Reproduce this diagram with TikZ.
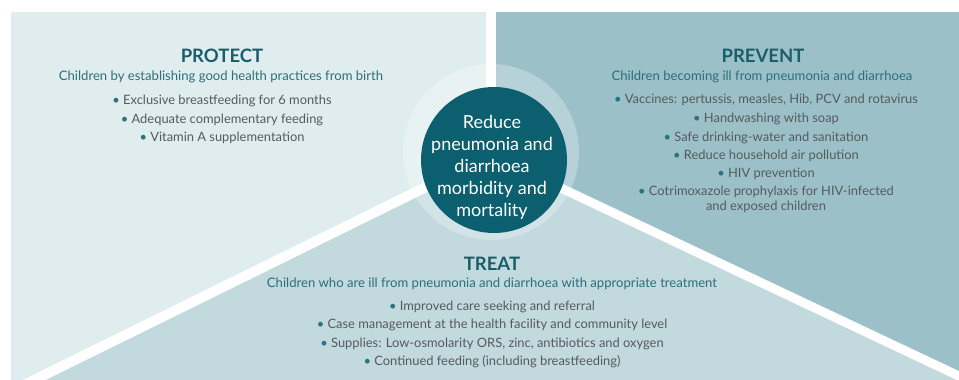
\documentclass[tikz,border=0pt]{standalone}
\usepackage{fontspec}
\setmainfont{Lato}
\definecolor{protectbg}{HTML}{E0EDEF}
\definecolor{preventbg}{HTML}{9BC0C8}
\definecolor{treatbg}{HTML}{C2D9DE}
\definecolor{coredark}{HTML}{0B5F6E}
\definecolor{headcol}{HTML}{1B5D6A}
\definecolor{subcol}{HTML}{2A6F7B}
\definecolor{itemcol}{HTML}{555B5D}
\definecolor{dotcol}{HTML}{2A7480}
\newcommand{\bul}{{\color{dotcol}\textbullet}\ }
\begin{document}
\begin{tikzpicture}[x=1pt,y=-1pt,
  headtxt/.style={anchor=base,font=\fontsize{18.5}{20}\selectfont\bfseries,text=headcol,inner sep=0pt},
  subtxt/.style={anchor=base,font=\fontsize{13.1}{15}\selectfont,text=subcol,inner sep=0pt},
  itemtxt/.style={anchor=base,font=\fontsize{12.9}{15}\selectfont,text=itemcol,inner sep=0pt},
  coretxt/.style={font=\fontsize{18}{22}\selectfont,text=white,align=center,inner sep=0pt},
  gapline/.style={white,line width=10pt,line cap=butt}]
\useasboundingbox (0,0) rectangle (959,380);
\fill[white] (0,0) rectangle (959,380);
\begin{scope}
\clip (11,12) rectangle (959,380);
\fill[protectbg] (11,12) rectangle (959,380);
\coordinate (hub) at (491,155);
\coordinate (topend) at (491,0);
\coordinate (leftend) at (20,387);
\coordinate (rightend) at (980,386);
\fill[preventbg] (hub) -- (491,0) -- (970,0) -- (rightend) -- cycle;
\fill[treatbg] (hub) -- (rightend) -- (980,400) -- (0,400) -- (leftend) -- cycle;
\draw[gapline] (hub) -- (topend);
\draw[gapline] (hub) -- (leftend);
\draw[gapline,line width=9pt] (hub) -- (rightend);
\end{scope}
\fill[white,opacity=0.28] (491,152) circle[radius=88];
\fill[coredark] (494,160) circle[radius=73];
\node[coretxt] (core) at (492,167) {Reduce\\pneumonia and\\diarrhoea\\morbidity and\\mortality};
% PROTECT
\node[headtxt] (ph) at (222,62) {PROTECT};
\node[subtxt] (ps) at (221,80) {Children by establishing good health practices from birth};
\node[itemtxt] (p1) at (222,104) {\bul Exclusive breastfeeding for 6 months};
\node[itemtxt] (p2) at (222,123) {\bul Adequate complementary feeding};
\node[itemtxt] (p3) at (222,141) {\bul Vitamin A supplementation};
% PREVENT
\node[headtxt] (vh) at (763,62) {PREVENT};
\node[subtxt] (vs) at (762,80) {Children becoming ill from pneumonia and diarrhoea};
\node[itemtxt] (v1) at (766,103) {\bul Vaccines: pertussis, measles, Hib, PCV and rotavirus};
\node[itemtxt] (v2) at (766,122) {\bul Handwashing with soap};
\node[itemtxt] (v3) at (766,141) {\bul Safe drinking-water and sanitation};
\node[itemtxt] (v4) at (766,159) {\bul Reduce household air pollution};
\node[itemtxt] (v5) at (766,177) {\bul HIV prevention};
\node[itemtxt] (v6) at (766,195) {\bul Cotrimoxazole prophylaxis for HIV-infected};
\node[itemtxt] (v7) at (766,210) {and exposed children};
% TREAT
\node[headtxt] (th) at (492,270) {TREAT};
\node[subtxt] (ts) at (492,287) {Children who are ill from pneumonia and diarrhoea with appropriate treatment};
\node[itemtxt] (t1) at (492,310) {\bul Improved care seeking and referral};
\node[itemtxt] (t2) at (492,328) {\bul Case management at the health facility and community level};
\node[itemtxt] (t3) at (492,347) {\bul Supplies: Low-osmolarity ORS, zinc, antibiotics and oxygen};
\node[itemtxt] (t4) at (492,365) {\bul Continued feeding (including breastfeeding)};
\end{tikzpicture}
\end{document}
